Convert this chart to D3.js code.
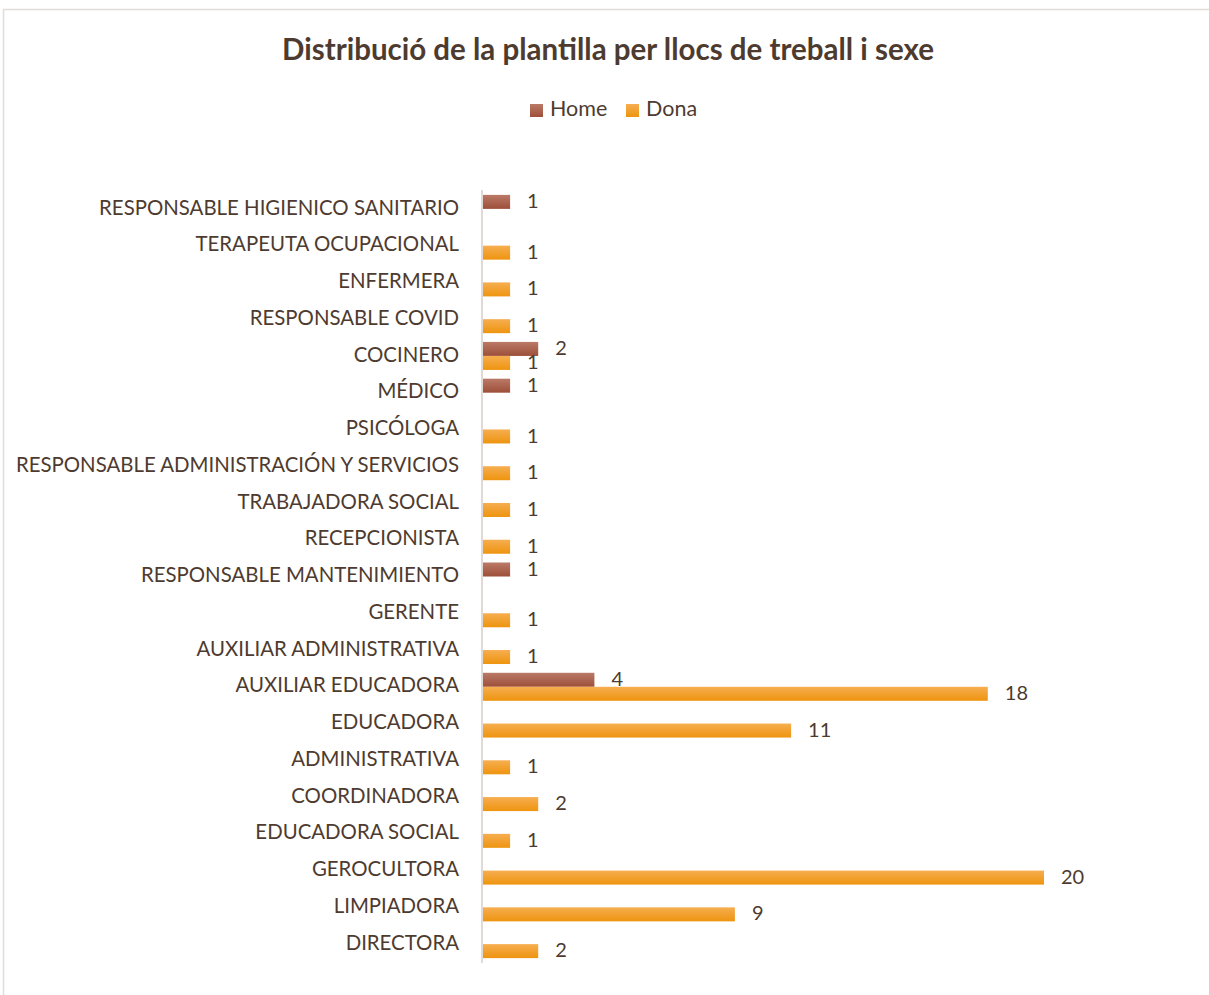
<html>
<head>
<script src="https://d3js.org/d3.v7.min.js"></script>
<style>
  body { margin: 0; background: #fff; }
  text { font-family: Lato, "Noto Sans", sans-serif; fill: #4e3b30; }
</style>
</head>
<body>
<div id="chart"></div>
<script>
// categories, top to bottom as in the picture
const categories = [
  "RESPONSABLE HIGIENICO SANITARIO", "TERAPEUTA OCUPACIONAL", "ENFERMERA",
  "RESPONSABLE COVID", "COCINERO", "MÉDICO", "PSICÓLOGA",
  "RESPONSABLE ADMINISTRACIÓN Y SERVICIOS", "TRABAJADORA SOCIAL", "RECEPCIONISTA",
  "RESPONSABLE MANTENIMIENTO", "GERENTE", "AUXILIAR ADMINISTRATIVA",
  "AUXILIAR EDUCADORA", "EDUCADORA", "ADMINISTRATIVA", "COORDINADORA",
  "EDUCADORA SOCIAL", "GEROCULTORA", "LIMPIADORA", "DIRECTORA"
];
const homeValues = [1, null, null, null, 2, 1, null, null, null, null, 1, null, null, 4, null, null, null, null, null, null, null];
const donaValues = [null, 1, 1, 1, 1, null, 1, 1, 1, 1, null, 1, 1, 18, 11, 1, 2, 1, 20, 9, 2];
const seriesNames = ["Home", "Dona"];

const width = 1209, height = 995;
const margins = {top: 190, right: 165, bottom: 33, left: 482};
const chartWidth = width - margins.left - margins.right;
const chartHeight = height - margins.top - margins.bottom;

const svg = d3.select("#chart").append("svg")
  .attr("width", width).attr("height", height);

// gradients for the bars
const defs = svg.append("defs");
const grads = {Home: ["#ba7a67", "#9d4f3a"], Dona: ["#f6ae50", "#ee940f"]};
Object.entries(grads).forEach(([k, c]) => {
  const g = defs.append("linearGradient").attr("id", "g-" + k)
    .attr("x1", 0).attr("y1", 0).attr("x2", 0).attr("y2", 1);
  g.append("stop").attr("offset", "0%").attr("stop-color", c[0]);
  g.append("stop").attr("offset", "100%").attr("stop-color", c[1]);
});

// outer frame
svg.append("rect")
  .attr("x", 3.5).attr("y", 9.5).attr("width", width + 10).attr("height", height + 10)
  .attr("fill", "none").attr("stroke", "#e3dcd8").attr("stroke-width", 1.5);

svg.append("text")
  .attr("x", 608).attr("y", 60)
  .attr("text-anchor", "middle")
  .style("font-size", "29.5px").style("font-weight", "bold")
  .text("Distribució de la plantilla per llocs de treball i sexe");

// legend
const legend = svg.append("g");
const legendX = [530, 626];
seriesNames.forEach((s, i) => {
  legend.append("rect").attr("x", legendX[i]).attr("y", 104)
    .attr("width", 13).attr("height", 13).attr("fill", "url(#g-" + s + ")");
  legend.append("text").attr("x", legendX[i] + 20).attr("y", 111)
    .attr("dominant-baseline", "middle").style("font-size", "21.5px").text(s);
});

const xScale = d3.scaleLinear().domain([0, 20]).range([0, 562]);
const yScale = d3.scaleBand().domain(categories).range([0, chartHeight]);
const ySub = d3.scaleBand().domain(seriesNames).range([yScale.bandwidth() / 2 - 13.5, yScale.bandwidth() / 2 + 14.5]);

const chartArea = svg.append("g")
  .attr("transform", `translate(${margins.left}, ${margins.top})`);

// category labels
const leftAxis = d3.axisLeft(yScale).tickSize(0).tickPadding(23);
const ax = chartArea.append("g").call(leftAxis);
ax.select(".domain").remove();
ax.selectAll("text").style("font-size", "20.4px").style("fill", "#4e3b30")
  .attr("font-family", "Lato, 'Noto Sans', sans-serif")
  .attr("dy", "0.3em");

const rows = [];
categories.forEach((c, i) => {
  if (homeValues[i] != null) rows.push({cat: c, s: "Home", v: homeValues[i]});
  if (donaValues[i] != null) rows.push({cat: c, s: "Dona", v: donaValues[i]});
});

chartArea.selectAll("rect.bar").data(rows).join("rect")
  .attr("class", "bar")
  .attr("x", 0)
  .attr("y", d => yScale(d.cat) + ySub(d.s))
  .attr("width", d => xScale(d.v))
  .attr("height", 14)
  .attr("fill", d => "url(#g-" + d.s + ")");

chartArea.selectAll("text.val").data(rows).join("text")
  .attr("class", "val")
  .attr("x", d => xScale(d.v) + 17)
  .attr("y", d => yScale(d.cat) + ySub(d.s) + 8)
  .attr("dominant-baseline", "middle")
  .style("font-size", "20px")
  .text(d => d.v);

// vertical axis line
chartArea.append("line")
  .attr("x1", 0).attr("x2", 0).attr("y1", 0).attr("y2", chartHeight + 1)
  .attr("stroke", "#e0d9d6").attr("stroke-width", 2);
</script>
</body>
</html>
